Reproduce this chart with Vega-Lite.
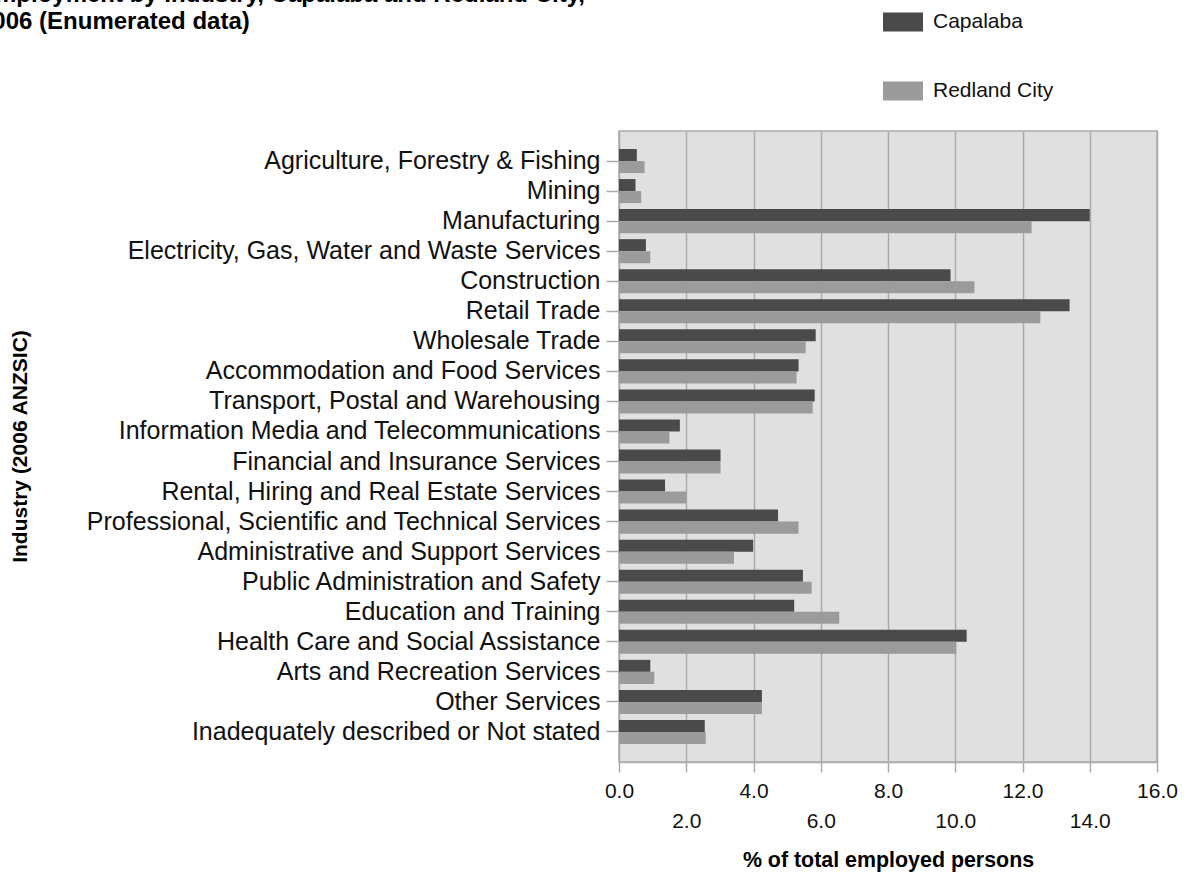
{
  "$schema": "https://vega.github.io/schema/vega-lite/v6.json",
  "autosize": {"type": "none"},
  "width": 538,
  "height": 631,
  "padding": {"left": 619, "top": 131, "right": 32, "bottom": 112},
  "background": "#ffffff",
  "title": {
    "text": ["Employment by Industry, Capalaba and Redland City,", "2006 (Enumerated data)"],
    "anchor": "start",
    "frame": "group",
    "font": "Liberation Sans",
    "fontSize": 24,
    "fontWeight": "bold",
    "color": "#000000",
    "lineHeight": 27,
    "dx": -640,
    "offset": -32
  },
  "data": {
    "values": [
      {"industry": "Agriculture, Forestry & Fishing", "series": "Capalaba", "value": 0.53},
      {"industry": "Agriculture, Forestry & Fishing", "series": "Redland City", "value": 0.76},
      {"industry": "Mining", "series": "Capalaba", "value": 0.49},
      {"industry": "Mining", "series": "Redland City", "value": 0.66},
      {"industry": "Manufacturing", "series": "Capalaba", "value": 14.0},
      {"industry": "Manufacturing", "series": "Redland City", "value": 12.27},
      {"industry": "Electricity, Gas, Water and Waste Services", "series": "Capalaba", "value": 0.8},
      {"industry": "Electricity, Gas, Water and Waste Services", "series": "Redland City", "value": 0.93},
      {"industry": "Construction", "series": "Capalaba", "value": 9.86},
      {"industry": "Construction", "series": "Redland City", "value": 10.57},
      {"industry": "Retail Trade", "series": "Capalaba", "value": 13.4},
      {"industry": "Retail Trade", "series": "Redland City", "value": 12.53},
      {"industry": "Wholesale Trade", "series": "Capalaba", "value": 5.85},
      {"industry": "Wholesale Trade", "series": "Redland City", "value": 5.55},
      {"industry": "Accommodation and Food Services", "series": "Capalaba", "value": 5.34},
      {"industry": "Accommodation and Food Services", "series": "Redland City", "value": 5.28},
      {"industry": "Transport, Postal and Warehousing", "series": "Capalaba", "value": 5.82},
      {"industry": "Transport, Postal and Warehousing", "series": "Redland City", "value": 5.76},
      {"industry": "Information Media and Telecommunications", "series": "Capalaba", "value": 1.81},
      {"industry": "Information Media and Telecommunications", "series": "Redland City", "value": 1.5},
      {"industry": "Financial and Insurance Services", "series": "Capalaba", "value": 3.02},
      {"industry": "Financial and Insurance Services", "series": "Redland City", "value": 3.02},
      {"industry": "Rental, Hiring and Real Estate Services", "series": "Capalaba", "value": 1.37},
      {"industry": "Rental, Hiring and Real Estate Services", "series": "Redland City", "value": 2.0},
      {"industry": "Professional, Scientific and Technical Services", "series": "Capalaba", "value": 4.73},
      {"industry": "Professional, Scientific and Technical Services", "series": "Redland City", "value": 5.34},
      {"industry": "Administrative and Support Services", "series": "Capalaba", "value": 3.99},
      {"industry": "Administrative and Support Services", "series": "Redland City", "value": 3.42},
      {"industry": "Public Administration and Safety", "series": "Capalaba", "value": 5.47},
      {"industry": "Public Administration and Safety", "series": "Redland City", "value": 5.73},
      {"industry": "Education and Training", "series": "Capalaba", "value": 5.21},
      {"industry": "Education and Training", "series": "Redland City", "value": 6.55},
      {"industry": "Health Care and Social Assistance", "series": "Capalaba", "value": 10.34},
      {"industry": "Health Care and Social Assistance", "series": "Redland City", "value": 10.03},
      {"industry": "Arts and Recreation Services", "series": "Capalaba", "value": 0.93},
      {"industry": "Arts and Recreation Services", "series": "Redland City", "value": 1.05},
      {"industry": "Other Services", "series": "Capalaba", "value": 4.25},
      {"industry": "Other Services", "series": "Redland City", "value": 4.25},
      {"industry": "Inadequately described or Not stated", "series": "Capalaba", "value": 2.55},
      {"industry": "Inadequately described or Not stated", "series": "Redland City", "value": 2.58}
    ]
  },
  "mark": {"type": "bar"},
  "encoding": {
    "y": {
      "field": "industry",
      "type": "nominal",
      "sort": null,
      "scale": {"paddingInner": 0.2, "paddingOuter": 0.6},
      "axis": {
        "title": "Industry (2006 ANZSIC)",
        "titleX": -599,
        "titleY": 315,
        "titleAngle": 270,
        "titleAlign": "center",
        "titleBaseline": "middle",
        "titleFont": "Liberation Sans",
        "titleFontSize": 21,
        "titleFontWeight": "bold",
        "titleColor": "#000000",
        "labelFont": "Liberation Sans",
        "labelFontSize": 25,
        "labelColor": "#111111",
        "labelPadding": 6,
        "labelLimit": 0,
        "tickSize": 13,
        "tickColor": "#aaaaaa",
        "tickWidth": 1.5,
        "domain": false,
        "grid": false
      }
    },
    "yOffset": {"field": "series", "type": "nominal", "sort": ["Capalaba", "Redland City"]},
    "x": {
      "field": "value",
      "type": "quantitative",
      "scale": {"domain": [0, 16], "nice": false},
      "axis": {
        "values": [0, 2, 4, 6, 8, 10, 12, 14, 16],
        "format": ".1f",
        "title": "% of total employed persons",
        "titleY": 98,
        "titleBaseline": "middle",
        "titleFont": "Liberation Sans",
        "titleFontSize": 21.4,
        "titleFontWeight": "bold",
        "titleColor": "#000000",
        "labelFont": "Liberation Sans",
        "labelFontSize": 21,
        "labelColor": "#111111",
        "labelPadding": {"condition": {"test": "datum.value % 4 !== 0", "value": 38}, "value": 8},
        "labelOverlap": false,
        "labelFlush": false,
        "tickSize": 10,
        "tickColor": "#aaaaaa",
        "tickWidth": 1.5,
        "domainColor": "#aaaaaa",
        "domainWidth": 1.5,
        "gridColor": "#aaaaaa",
        "gridWidth": 1.5
      }
    },
    "color": {
      "field": "series",
      "type": "nominal",
      "scale": {"domain": ["Capalaba", "Redland City"], "range": ["#4a4a4a", "#9b9b9b"]},
      "legend": {
        "orient": "none",
        "legendX": 264,
        "legendY": -129,
        "title": null,
        "symbolType": "M-1,-0.475H1V0.475H-1Z",
        "symbolSize": 1600,
        "symbolStrokeWidth": 0,
        "labelFont": "Liberation Sans",
        "labelFontSize": 21,
        "labelColor": "#111111",
        "labelOffset": 10,
        "rowPadding": 39,
        "padding": 0
      }
    }
  },
  "config": {
    "view": {"fill": "#e0e0e0", "stroke": "#aaaaaa", "strokeWidth": 1.5}
  }
}
